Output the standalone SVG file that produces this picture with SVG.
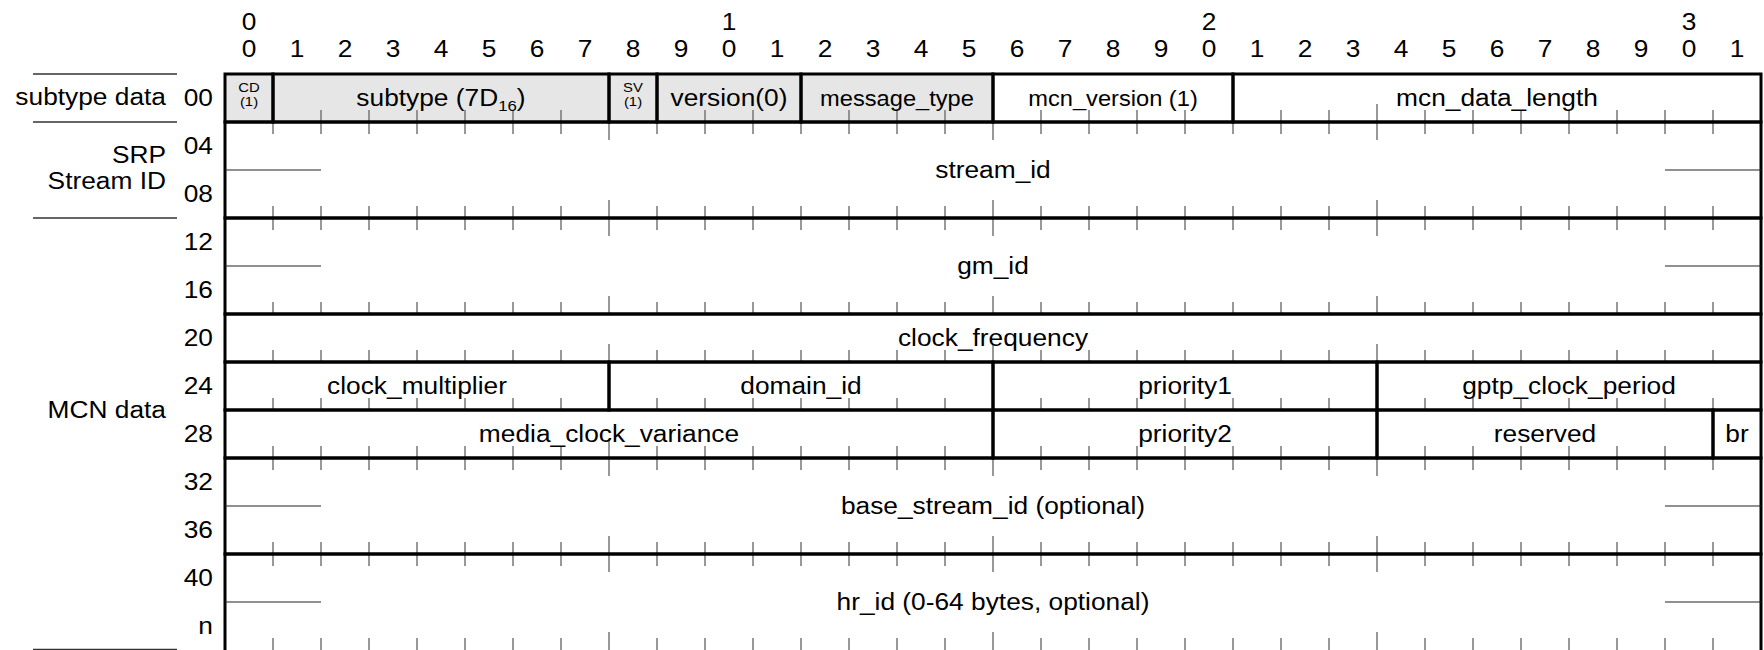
<svg xmlns="http://www.w3.org/2000/svg" xmlns:xlink="http://www.w3.org/1999/xlink" width="1764" height="650" viewBox="0 0 1764 650">
<style>
text{font-family:"Liberation Sans",Arial,Helvetica,sans-serif;font-size:23.5px;fill:#000}
.m{text-anchor:middle}
.e{text-anchor:end}
.s{font-size:13.5px}
.sm{font-size:21.5px}
.sub{font-size:15px}
.f{fill:none;stroke:#000;stroke-width:3}
.c{stroke:#222;stroke-width:1.2;fill:none}
.tick{stroke:#777;stroke-width:1.5;fill:none}
.sep{stroke:#333;stroke-width:1.3}
</style>
<defs>
<path id="tu" class="tick" d="M273 0v-12M321 0v-12M369 0v-12M417 0v-12M465 0v-12M513 0v-12M561 0v-12M609 0v-18M657 0v-12M705 0v-12M753 0v-12M801 0v-12M849 0v-12M897 0v-12M945 0v-12M993 0v-18M1041 0v-12M1089 0v-12M1137 0v-12M1185 0v-12M1233 0v-12M1281 0v-12M1329 0v-12M1377 0v-18M1425 0v-12M1473 0v-12M1521 0v-12M1569 0v-12M1617 0v-12M1665 0v-12M1713 0v-12"/>
<path id="td" class="tick" d="M273 0v12M321 0v12M369 0v12M417 0v12M465 0v12M513 0v12M561 0v12M609 0v18M657 0v12M705 0v12M753 0v12M801 0v12M849 0v12M897 0v12M945 0v12M993 0v18M1041 0v12M1089 0v12M1137 0v12M1185 0v12M1233 0v12M1281 0v12M1329 0v12M1377 0v18M1425 0v12M1473 0v12M1521 0v12M1569 0v12M1617 0v12M1665 0v12M1713 0v12"/>
</defs>
<rect width="1764" height="650" fill="#fff"/>

<g id="bit-numbers">
<text class="m" transform="translate(249,30) scale(1.12,1)">0</text>
<text class="m" transform="translate(729,30) scale(1.12,1)">1</text>
<text class="m" transform="translate(1209,30) scale(1.12,1)">2</text>
<text class="m" transform="translate(1689,30) scale(1.12,1)">3</text>
<text class="m" transform="translate(249,57) scale(1.12,1)">0</text>
<text class="m" transform="translate(297,57) scale(1.12,1)">1</text>
<text class="m" transform="translate(345,57) scale(1.12,1)">2</text>
<text class="m" transform="translate(393,57) scale(1.12,1)">3</text>
<text class="m" transform="translate(441,57) scale(1.12,1)">4</text>
<text class="m" transform="translate(489,57) scale(1.12,1)">5</text>
<text class="m" transform="translate(537,57) scale(1.12,1)">6</text>
<text class="m" transform="translate(585,57) scale(1.12,1)">7</text>
<text class="m" transform="translate(633,57) scale(1.12,1)">8</text>
<text class="m" transform="translate(681,57) scale(1.12,1)">9</text>
<text class="m" transform="translate(729,57) scale(1.12,1)">0</text>
<text class="m" transform="translate(777,57) scale(1.12,1)">1</text>
<text class="m" transform="translate(825,57) scale(1.12,1)">2</text>
<text class="m" transform="translate(873,57) scale(1.12,1)">3</text>
<text class="m" transform="translate(921,57) scale(1.12,1)">4</text>
<text class="m" transform="translate(969,57) scale(1.12,1)">5</text>
<text class="m" transform="translate(1017,57) scale(1.12,1)">6</text>
<text class="m" transform="translate(1065,57) scale(1.12,1)">7</text>
<text class="m" transform="translate(1113,57) scale(1.12,1)">8</text>
<text class="m" transform="translate(1161,57) scale(1.12,1)">9</text>
<text class="m" transform="translate(1209,57) scale(1.12,1)">0</text>
<text class="m" transform="translate(1257,57) scale(1.12,1)">1</text>
<text class="m" transform="translate(1305,57) scale(1.12,1)">2</text>
<text class="m" transform="translate(1353,57) scale(1.12,1)">3</text>
<text class="m" transform="translate(1401,57) scale(1.12,1)">4</text>
<text class="m" transform="translate(1449,57) scale(1.12,1)">5</text>
<text class="m" transform="translate(1497,57) scale(1.12,1)">6</text>
<text class="m" transform="translate(1545,57) scale(1.12,1)">7</text>
<text class="m" transform="translate(1593,57) scale(1.12,1)">8</text>
<text class="m" transform="translate(1641,57) scale(1.12,1)">9</text>
<text class="m" transform="translate(1689,57) scale(1.12,1)">0</text>
<text class="m" transform="translate(1737,57) scale(1.12,1)">1</text>
</g>

<g id="section-labels">
<line class="sep" x1="33" y1="74" x2="177" y2="74"/>
<line class="sep" x1="33" y1="122" x2="177" y2="122"/>
<line class="sep" x1="33" y1="218" x2="177" y2="218"/>
<line class="sep" x1="33" y1="649.5" x2="177" y2="649.5"/>
<text class="e" transform="translate(166,105) scale(1.12,1)">subtype data</text>
<text class="e" transform="translate(166,163) scale(1.12,1)">SRP</text>
<text class="e" transform="translate(166,189) scale(1.12,1)">Stream ID</text>
<text class="e" transform="translate(166,418) scale(1.12,1)">MCN data</text>
</g>

<g id="row-offsets">
<text class="e" transform="translate(213,106) scale(1.12,1)">00</text>
<text class="e" transform="translate(213,154) scale(1.12,1)">04</text>
<text class="e" transform="translate(213,202) scale(1.12,1)">08</text>
<text class="e" transform="translate(213,250) scale(1.12,1)">12</text>
<text class="e" transform="translate(213,298) scale(1.12,1)">16</text>
<text class="e" transform="translate(213,346) scale(1.12,1)">20</text>
<text class="e" transform="translate(213,394) scale(1.12,1)">24</text>
<text class="e" transform="translate(213,442) scale(1.12,1)">28</text>
<text class="e" transform="translate(213,490) scale(1.12,1)">32</text>
<text class="e" transform="translate(213,538) scale(1.12,1)">36</text>
<text class="e" transform="translate(213,586) scale(1.12,1)">40</text>
<text class="e" transform="translate(213,634) scale(1.12,1)">n</text>
</g>

<g id="shading">
<rect x="225" y="74" width="768" height="48" fill="#e6e6e6"/>
</g>

<g id="connectors">
<use xlink:href="#tu" y="122"/>
<use xlink:href="#td" y="122"/>
<use xlink:href="#tu" y="218"/>
<use xlink:href="#td" y="218"/>
<use xlink:href="#tu" y="314"/>
<use xlink:href="#tu" y="362"/>
<use xlink:href="#tu" y="410"/>
<use xlink:href="#tu" y="458"/>
<use xlink:href="#td" y="458"/>
<use xlink:href="#tu" y="554"/>
<use xlink:href="#td" y="554"/>
<use xlink:href="#tu" y="650"/>
</g>

<g id="cd">
<rect class="f" x="225" y="74" width="48" height="48"/>
<text class="m s" transform="translate(249,92) scale(1.1,1)">CD</text>
<text class="m s" transform="translate(249,106) scale(1.1,1)">(1)</text>
</g>
<g id="subtype">
<rect class="f" x="273" y="74" width="336" height="48"/>
<text class="m" transform="translate(441,106) scale(1.12,1)">subtype (7D<tspan class="sub" dy="5">16</tspan><tspan dy="-5">)</tspan></text>
</g>
<g id="sv">
<rect class="f" x="609" y="74" width="48" height="48"/>
<text class="m s" transform="translate(633,92) scale(1.1,1)">SV</text>
<text class="m s" transform="translate(633,106) scale(1.1,1)">(1)</text>
</g>
<g id="version">
<rect class="f" x="657" y="74" width="144" height="48"/>
<text class="m" transform="translate(729,106) scale(1.12,1)">version(0)</text>
</g>
<g id="message_type">
<rect class="f" x="801" y="74" width="192" height="48"/>
<text class="m sm" transform="translate(897,105.5) scale(1.1,1)">message_type</text>
</g>
<g id="mcn_version">
<rect class="f" x="993" y="74" width="240" height="48"/>
<text class="m sm" transform="translate(1113,105.5) scale(1.1,1)">mcn_version (1)</text>
</g>
<g id="mcn_data_length">
<rect class="f" x="1233" y="74" width="528" height="48"/>
<text class="m" transform="translate(1497,106) scale(1.12,1)">mcn_data_length</text>
</g>
<g id="stream_id">
<rect class="f" x="225" y="122" width="1536" height="96"/>
<path class="c" d="M225 170H321M1665 170H1761"/>
<text class="m" transform="translate(993,178) scale(1.12,1)">stream_id</text>
</g>
<g id="gm_id">
<rect class="f" x="225" y="218" width="1536" height="96"/>
<path class="c" d="M225 266H321M1665 266H1761"/>
<text class="m" transform="translate(993,274) scale(1.12,1)">gm_id</text>
</g>
<g id="clock_frequency">
<rect class="f" x="225" y="314" width="1536" height="48"/>
<text class="m" transform="translate(993,346) scale(1.12,1)">clock_frequency</text>
</g>
<g id="clock_multiplier">
<rect class="f" x="225" y="362" width="384" height="48"/>
<text class="m" transform="translate(417,394) scale(1.12,1)">clock_multiplier</text>
</g>
<g id="domain_id">
<rect class="f" x="609" y="362" width="384" height="48"/>
<text class="m" transform="translate(801,394) scale(1.12,1)">domain_id</text>
</g>
<g id="priority1">
<rect class="f" x="993" y="362" width="384" height="48"/>
<text class="m" transform="translate(1185,394) scale(1.12,1)">priority1</text>
</g>
<g id="gptp_clock_period">
<rect class="f" x="1377" y="362" width="384" height="48"/>
<text class="m" transform="translate(1569,394) scale(1.12,1)">gptp_clock_period</text>
</g>
<g id="media_clock_variance">
<rect class="f" x="225" y="410" width="768" height="48"/>
<text class="m" transform="translate(609,442) scale(1.12,1)">media_clock_variance</text>
</g>
<g id="priority2">
<rect class="f" x="993" y="410" width="384" height="48"/>
<text class="m" transform="translate(1185,442) scale(1.12,1)">priority2</text>
</g>
<g id="reserved">
<rect class="f" x="1377" y="410" width="336" height="48"/>
<text class="m" transform="translate(1545,442) scale(1.12,1)">reserved</text>
</g>
<g id="br">
<rect class="f" x="1713" y="410" width="48" height="48"/>
<text class="m" transform="translate(1737,442) scale(1.12,1)">br</text>
</g>
<g id="base_stream_id">
<rect class="f" x="225" y="458" width="1536" height="96"/>
<path class="c" d="M225 506H321M1665 506H1761"/>
<text class="m" transform="translate(993,514) scale(1.12,1)">base_stream_id (optional)</text>
</g>
<g id="hr_id">
<rect class="f" x="225" y="554" width="1536" height="100"/>
<path class="c" d="M225 602H321M1665 602H1761"/>
<text class="m" transform="translate(993,610) scale(1.12,1)">hr_id (0-64 bytes, optional)</text>
</g>
</svg>
